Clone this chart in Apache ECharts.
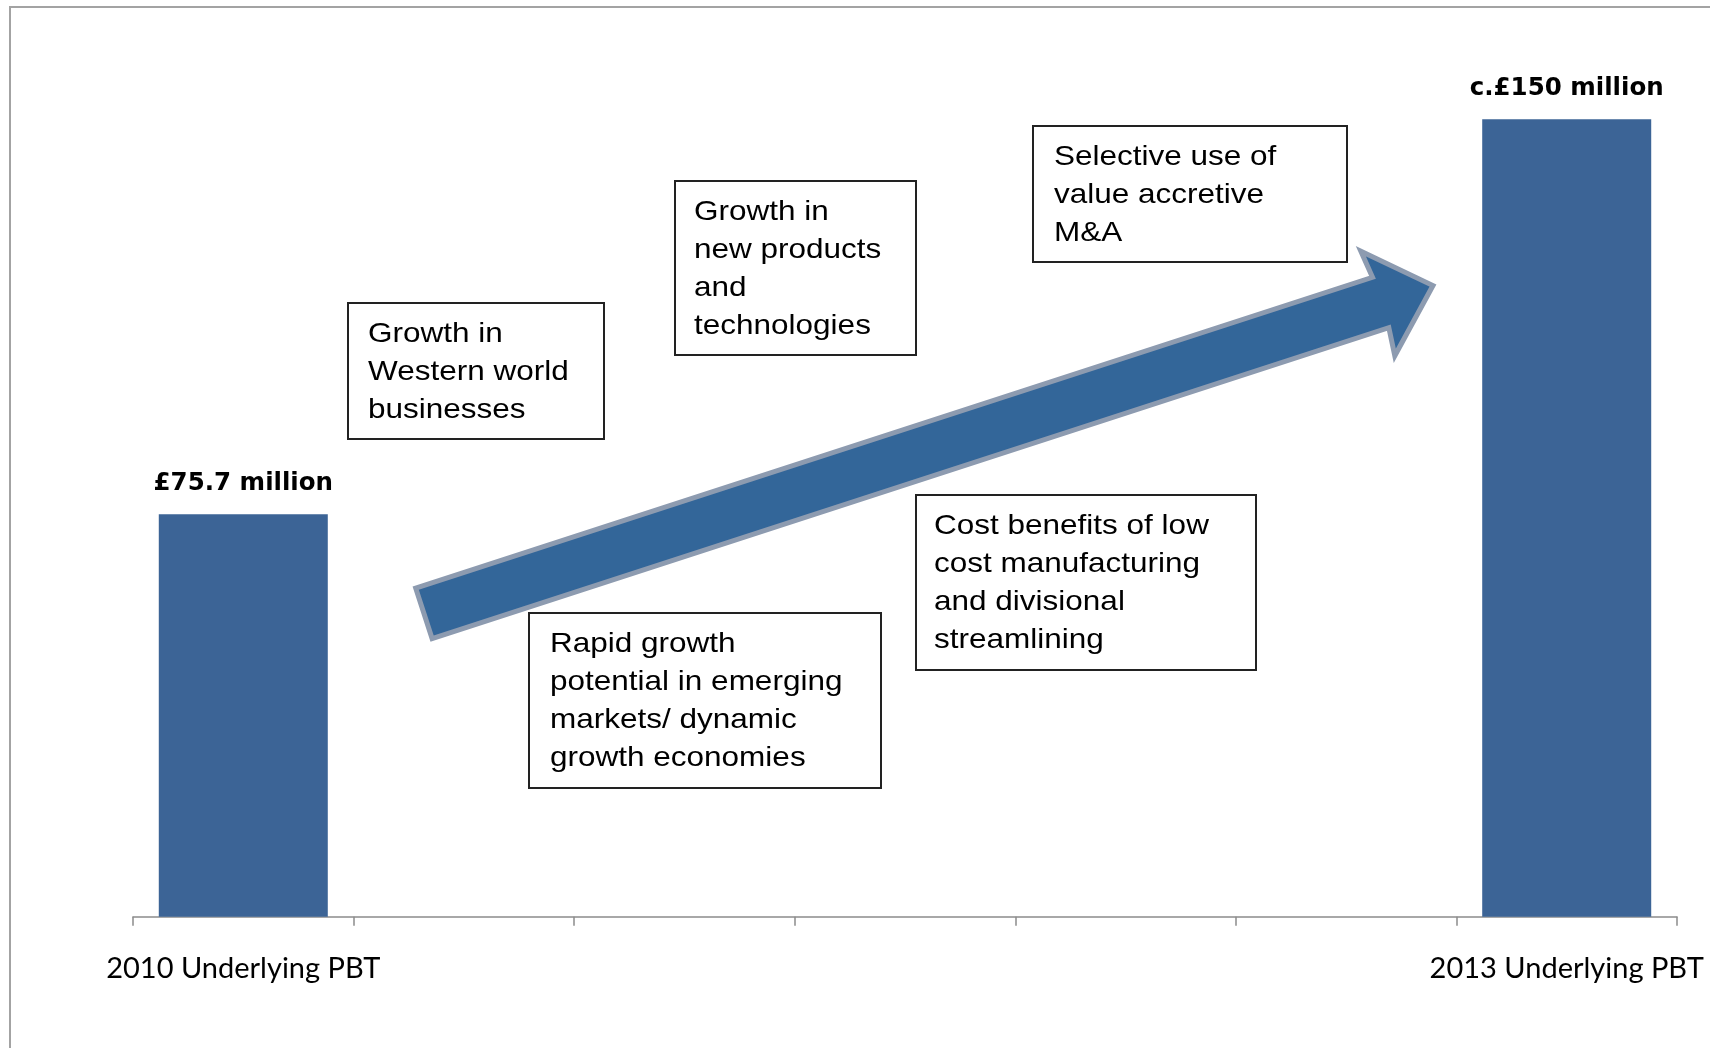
<!DOCTYPE html>
<html>
<head>
<meta charset="utf-8">
<script src="https://cdn.jsdelivr.net/npm/echarts@6/dist/echarts.min.js"></script>
<style>
  html, body { margin: 0; padding: 0; background: #ffffff; }
  #chart { width: 1710px; height: 1048px; }
</style>
</head>
<body>
<div id="chart"></div>
<script>
// Underlying profit before tax, £ million
const categories = ['2010 Underlying PBT', '', '', '', '', '', '2013 Underlying PBT'];
const pbtValues = [75.7, null, null, null, null, null, 150];
const valuePrefixes = ['', '', '', '', '', '', 'c.'];

// Growth drivers shown along the arrow
const driverNotes = [
  ['Growth in', 'Western world', 'businesses'],
  ['Rapid growth', 'potential in emerging', 'markets/ dynamic', 'growth economies'],
  ['Growth in', 'new products', 'and', 'technologies'],
  ['Cost benefits of low', 'cost manufacturing', 'and divisional', 'streamlining'],
  ['Selective use of', 'value accretive', 'M&A']
];

// Box placement (pixels) for each note, same order as driverNotes
const noteBoxes = [
  { x: 348, y: 303, w: 256, h: 136, pad: 20 },
  { x: 529, y: 613, w: 352, h: 175, pad: 21 },
  { x: 675, y: 181, w: 241, h: 174, pad: 19 },
  { x: 916, y: 495, w: 340, h: 175, pad: 18 },
  { x: 1033, y: 126, w: 314, h: 136, pad: 21 }
];

// Block arrow: origin at tail centre, angle in degrees, points in (along, across) units
const arrowLayout = {
  ox: 422, oy: 614, angle: 18,
  pts: [[2, -26.5], [1008, -26.5], [1005, -55], [1063, 0], [1005, 55], [1008, 26.5], [2, 26.5]]
};

function arrowPoints(a) {
  const t = a.angle * Math.PI / 180;
  const ux = Math.cos(t), uy = -Math.sin(t);
  const nx = Math.sin(t), ny = Math.cos(t);
  return a.pts.map(([u, n]) => [a.ox + u * ux + n * nx, a.oy + u * uy + n * ny]);
}

const graphics = [
  {
    type: 'rect', z: 0, silent: true,
    shape: { x: 10, y: 7, width: 1760, height: 1100 },
    style: { fill: 'none', stroke: '#a3a3a3', lineWidth: 2 }
  },
  {
    type: 'polygon', z: 5, silent: true,
    shape: { points: arrowPoints(arrowLayout) },
    style: { fill: '#336699', stroke: '#8d9bb0', lineWidth: 5, lineJoin: 'miter' }
  }
];

driverNotes.forEach((lines, i) => {
  const b = noteBoxes[i];
  graphics.push({
    type: 'rect', z: 10, silent: true,
    shape: { x: b.x, y: b.y, width: b.w, height: b.h },
    style: { fill: '#ffffff', stroke: '#222222', lineWidth: 2 }
  });
  graphics.push({
    type: 'text', z: 11, silent: true,
    x: b.x + b.pad, y: b.y + 12.5, scaleX: 1.125,
    style: {
      text: lines.join('\n'),
      fontFamily: '"Liberation Sans", Arial, sans-serif',
      fontSize: 28,
      lineHeight: 38,
      fill: '#000000',
      align: 'left',
      verticalAlign: 'top'
    }
  });
});

const chart = echarts.init(document.getElementById('chart'));
chart.setOption({
  animation: false,
  backgroundColor: '#ffffff',
  grid: { left: 133, right: 33, top: 66.1, bottom: 131.3, containLabel: false, outerBoundsMode: 'none' },
  xAxis: {
    type: 'category',
    data: categories,
    boundaryGap: true,
    axisLine: { lineStyle: { color: '#8c8c8c', width: 1.5 } },
    axisTick: { show: true, length: 9, lineStyle: { color: '#8c8c8c', width: 1.5 } },
    axisLabel: {
      interval: 0, margin: 37,
      fontFamily: 'Lato', fontSize: 29, lineHeight: 29, color: '#000000'
    },
    splitLine: { show: false }
  },
  yAxis: { type: 'value', min: 0, max: 160, show: false, splitLine: { show: false } },
  series: [{
    type: 'bar',
    data: pbtValues,
    barWidth: 169,
    itemStyle: { color: '#3c6496' },
    label: {
      show: true,
      position: 'top',
      distance: 18,
      formatter: p => valuePrefixes[p.dataIndex] + '£' + p.value + ' million',
      fontFamily: '"DejaVu Sans"',
      fontWeight: 'bold',
      fontSize: 24.5,
      color: '#000000'
    }
  }],
  graphic: graphics
});
</script>
</body>
</html>
